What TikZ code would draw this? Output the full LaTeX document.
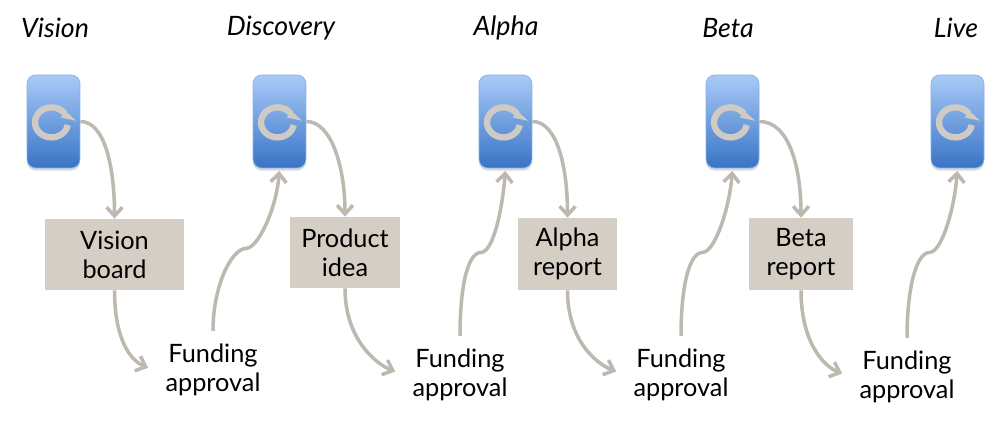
\documentclass[tikz,border=0pt]{standalone}
\usepackage{fontspec}
\setmainfont{Lato}
\usetikzlibrary{positioning,arrows.meta,calc,shadows}

\definecolor{flowgray}{HTML}{BDB8B0}
\definecolor{notetan}{HTML}{D4CEC5}
\definecolor{loopgray}{HTML}{CFCBC4}
\definecolor{blueTop}{HTML}{A9CAF7}
\definecolor{blueBottom}{HTML}{3874C6}

\begin{document}
\begin{tikzpicture}[
    x=0.02cm, y=-0.02cm,
    font=\fontsize{14.4pt}{16.4pt}\selectfont,
    phase/.style={font=\fontsize{15.2pt}{18pt}\selectfont\itshape, inner sep=0pt},
    sprint/.style={rounded corners=5pt, minimum width=1.06cm, minimum height=1.86cm,
                   inner sep=0pt, top color=blueTop, bottom color=blueBottom,
                   draw=blueTop!70!blueBottom, line width=0.4pt,
                   drop shadow={shadow xshift=0pt, shadow yshift=-1.5pt, opacity=0.3}},
    note/.style={fill=notetan, align=center, inner sep=0pt},
    funding/.style={align=center, inner xsep=0.34cm, inner ysep=0.26cm},
    arrow/.style={-{Straight Barb[length=5pt,width=9pt,line width=2pt]}, draw=flowgray, line width=2pt},
    uparrow/.style={arrow, shorten >=1.5pt},
    loopicon/.pic={
      \draw[loopgray, line width=3.6pt] (0.285cm,-0.07cm) arc[start angle=-10, end angle=-325, x radius=0.33cm, y radius=0.3cm];
      \fill[loopgray] (0.456cm,0.014cm) -- (0.14cm,0.08cm) -- (0.256cm,0.194cm) -- cycle;
    },
]

% === Phase titles ===
\node[phase] (tvision) at (55,28) {Vision};
\node[phase] (tdiscovery) at (281,28) {Discovery};
\node[phase] (talpha) at (506,28) {Alpha};
\node[phase] (tbeta) at (728,28) {Beta};
\node[phase] (tlive) at (956,28) {Live};

% === Sprint boxes ===
\node[sprint] (svision) at (53.5,121.5) {};
\node[sprint] (sdiscovery) at (279.5,121.5) {};
\node[sprint] (salpha) at (505.5,121.5) {};
\node[sprint] (sbeta) at (732.5,121.5) {};
\node[sprint] (slive) at (957.5,121.5) {};

\pic at (svision) {loopicon};
\pic at (sdiscovery) {loopicon};
\pic at (salpha) {loopicon};
\pic at (sbeta) {loopicon};
\pic at (slive) {loopicon};

% === Notes ===
\node[note, minimum width=2.78cm, minimum height=1.42cm] (nvision) at (114.5,254.5) {Vision\\board};
\node[note, minimum width=2.2cm, minimum height=1.42cm] (nproduct) at (345,252.5) {Product\\idea};
\node[note, minimum width=1.98cm, minimum height=1.44cm] (nalpha) at (567.5,254) {Alpha\\report};
\node[note, minimum width=2.08cm, minimum height=1.44cm] (nbeta) at (801,254) {Beta\\report};

% === Funding steps ===
\node[funding] (fund1) at (213,370) {Funding\\approval};
\node[funding] (fund2) at (460,375) {Funding\\approval};
\node[funding] (fund3) at (681,375) {Funding\\approval};
\node[funding] (fund4) at (907,377) {Funding\\approval};

% === Sprint -> note ===
\draw[arrow] (svision.east) .. controls +(25,0) and +(0,-50) .. (nvision.north);
\draw[arrow] (sdiscovery.east) .. controls +(25,0) and +(0,-50) .. (nproduct.north);
\draw[arrow] (salpha.east) .. controls +(25,0) and +(0,-50) .. (nalpha.north);
\draw[arrow] (sbeta.east) .. controls +(30,0) and +(0,-50) .. (nbeta.north);

% === Note -> funding ===
\draw[arrow] (nvision.south) .. controls +(0,45) and +(-20,-8) .. (fund1.178);
\draw[arrow] (nproduct.south) .. controls +(0,50) and +(-20,-8) .. (fund2.177);
\draw[arrow] (nalpha.south) .. controls +(0,50) and +(-20,-8) .. (fund3.177);
\draw[arrow] (nbeta.south) .. controls +(0,50) and +(-20,-8) .. (fund4.177);

% === Funding -> next sprint ===
\draw[uparrow] (fund1.north) .. controls +(0,-45) and +(-15,0) .. ($(sdiscovery.south)+(-33,80)$)
     .. controls +(12,-1) and +(-3,40) .. (sdiscovery.south);
\draw[uparrow] (fund2.north) .. controls +(0,-45) and +(-15,0) .. ($(salpha.south)+(-24,84)$)
     .. controls +(12,-1) and +(-3,40) .. (salpha.south);
\draw[uparrow] (fund3.north) .. controls +(0,-45) and +(-15,0) .. ($(sbeta.south)+(-29.5,84)$)
     .. controls +(12,-1) and +(-3,40) .. (sbeta.south);
\draw[uparrow] (fund4.north) .. controls +(0,-45) and +(-15,0) .. ($(slive.south)+(-27.5,84)$)
     .. controls +(12,-1) and +(-3,40) .. (slive.south);

\useasboundingbox (0,0) rectangle (998,445);
\end{tikzpicture}
\end{document}
